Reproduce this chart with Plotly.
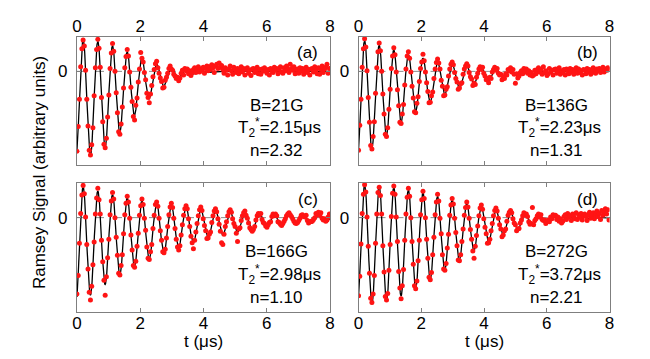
import numpy as np
import plotly.graph_objects as go

# ---------------- data (signal values in hundredths, arbitrary units) ----------------
dt = 0.03875  # sampling step (us)

sig_a = [-135, -93, -47, 8, 38, 53, 43, 2, -47, -92, -133, -141,
         -124, -95, -41, 6, 37, 54, 39, 7, -44, -85, -123, -129,
         -113, -77, -40, 5, 31, 47, 34, 0, -36, -70, -102, -106,
         -89, -60, -28, 6, 25, 37, 26, -1, -27, -51, -76, -82,
         -57, -45, -18, 4, 32, 22, 16, -2, -14, -37, -44, -53,
         -38, -24, -9, 3, 13, 17, 6, -3, -11, -17, -28, -27,
         -15, -10, -3, 5, 9, 4, 2, -5, -8, -12, -10, -16,
         -11, -3, 2, -6, 5, 1, 4, -4, 1, -7, -2, 3,
         6, -2, 3, 8, -1, 4, 2, 7, -3, 5, 9, 1,
         8, 3, 11, 6, -2, 9, 12, 5, 14, 7, 10, 3,
         -3, 6, 2, -6, 4, 9, 1, -5, 7, 3, -2, 5,
         -4, 2, 8, -1, 5, -6, 3, 6, -3, 2, -7, 4,
         5, -2, 1, 7, -4, 3, -5, 4, 0, 6, 2, -3,
         3, -6, 5, 1, -2, 7, 2, 5, -4, 3, 8, -1,
         -3, 6, 1, 9, 4, -2, 12, 5, 2, 8, -4, 3,
         4, -3, 6, 0, 5, -5, 1, 7, -2, 3, -6, 4,
         5, -1, 8, 2, -4, 6, -5, 3, 9, -2, 4, 7,
         12, -3, 5]

sig_b = [-133, -91, -47, 7, 38, 55, 41, 1, -44, -86, -125, -131,
         -110, -85, -37, 6, 33, 48, 35, 0, -38, -72, -106, -110,
         -95, -64, -30, 5, 26, 40, 28, -1, -31, -58, -86, -88,
         -72, -56, -23, 4, 26, 33, 22, -1, -25, -45, -68, -70,
         -54, -43, -17, 5, 16, 29, 18, -1, -19, -34, -53, -52,
         -41, -35, -12, 4, 15, 21, 14, 4, -15, -25, -41, -40,
         -30, -26, -8, 4, 12, 16, 11, -2, -12, -18, -30, -28,
         -21, -19, -5, 4, 9, 13, 9, -2, -9, -13, -24, -20,
         -22, -10, -3, 4, 8, 3, 7, -3, -8, -14, -12, -19,
         -10, -12, -1, 3, 7, 2, 5, -3, -6, -5, -14, -9,
         -12, -4, -6, 3, 1, 6, -1, 3, -5, -20, -4, -11,
         -8, -2, 1, -4, 5, 0, 4, -3, 1, -6, -2, -8,
         -6, 2, -4, 3, 6, -1, 3, -5, 8, -2, 1, -7,
         -4, 5, -1, 2, -6, 3, 4, -3, 0, 6, -5, 1,
         -2, 3, -6, 4, 1, -4, 5, -1, 3, -5, 2, 6,
         -3, 4, -2, 1, -6, 3, 2, -4, 5, -1, 3, -5,
         -2, 6, 1, -3, 4, 2, 5, -2, 3, 7, -1, 4,
         2, 6, 3]

sig_c = [-128, -97, -43, 7, 38, 54, 40, 1, -45, -86, -125, -138,
         -115, -79, -41, 6, 33, 49, 30, 6, -38, -74, -105, -130,
         -99, -67, -36, 5, 28, 42, 31, 0, -33, -63, -93, -96,
         -80, -62, -27, 5, 24, 36, 26, -1, -29, -54, -80, -83,
         -73, -48, -26, 4, 20, 31, 22, -1, -21, -49, -68, -70,
         -57, -45, -18, 4, 22, 26, 19, -1, -22, -38, -57, -59,
         -53, -34, -15, 5, 18, 24, 17, -1, -18, -36, -49, -54,
         -47, -29, -12, 4, 15, 20, 15, -2, -15, -31, -42, -52,
         -38, -24, -10, 3, 13, 18, 12, -2, -13, -22, -35, -34,
         -28, -24, -8, 3, 11, 15, 10, -2, -11, -23, -42, -45,
         -28, -15, -7, 3, 10, 13, 9, -2, -10, -15, -26, -40,
         -19, -17, -5, 3, 8, 11, 4, -1, -9, -17, -20, -23,
         -20, -15, -4, 3, 7, 5, 7, -3, -8, -10, -14, -16,
         -12, -8, -7, 2, 6, 3, 6, 3, -7, -8, -11, -13,
         -10, -6, -2, 3, 6, 8, 5, 2, -2, -6, -9, -10,
         -8, -5, -1, 4, 5, 2, 1, 4, -5, -9, -7, -6,
         -6, -3, 0, 7, 5, 9, 4, 8, -1, -4, -2, -6,
         -4, 1, 6]

sig_d = [-131, -98, -44, 7, 39, 55, 43, 1, -48, -93, -135, -142,
         -128, -97, -43, 6, 42, 51, 37, 6, -47, -91, -132, -138,
         -127, -88, -45, 2, 41, 53, 39, 1, -40, -90, -118, -136,
         -114, -87, -38, 6, 34, 49, 36, 0, -40, -78, -114, -119,
         -106, -72, -38, 5, 30, 44, 32, 0, -36, -68, -100, -104,
         -92, -62, -33, 5, 26, 39, 28, -1, -27, -62, -86, -88,
         -77, -51, -28, 4, 21, 32, 23, -1, -25, -47, -71, -72,
         -62, -40, -19, 4, 17, 26, 18, -1, -20, -36, -56, -68,
         -48, -30, -14, 3, 16, 21, 14, -2, -16, -27, -43, -42,
         -36, -22, -10, 3, 12, 16, 11, -1, -12, -19, -32, -29,
         -22, -19, -6, 4, 9, 12, 8, -2, -9, -12, -22, -19,
         -18, -9, -4, 3, 8, 5, 6, 2, -7, -11, -10, 17,
         -12, -5, -2, 3, 6, 1, 5, -3, -5, -4, -10, -7,
         -4, -7, 1, -2, 5, 3, 4, -3, 1, -6, -2, -9,
         -6, 2, 5, -3, 7, 1, 3, -5, 6, 2, -2, 8,
         -3, 5, 1, 7, -4, 3, 6, 2, -5, 4, 9, -1,
         3, 8, -2, 5, 11, 2, 7, -3, 12, 4, 9, 15,
         6, 13, -4]

labels = ["(a)", "(b)", "(c)", "(d)"]
fields = ["B=21G", "B=136G", "B=166G", "B=272G"]
T2 = [2.15, 2.23, 2.98, 3.72]          # us
n_exp = [2.32, 1.31, 1.10, 2.21]
period = 0.465                          # us, Ramsey fringe period
t_peak = 0.194                          # us, first fringe maximum
offset = 0.46                           # fringe offset (arb. units)
xticks = [0, 2, 4, 6, 8]

signals = [sig_a, sig_b, sig_c, sig_d]

# ---------------- layout geometry ----------------
# page body has an 8px margin, so the figure is 642x351 and sits at (8, 8)
W, H, OFF = 642, 351, 8


def px_x(X):
    return (X - OFF) / W


def px_y(Y):
    return 1 - (Y - OFF) / H


FONT = "Liberation Sans, Arial, Helvetica, sans-serif"
XL = [px_x(73), px_x(330)]
XR = [px_x(359), px_x(614)]
YT = [px_y(165), px_y(37)]
YB = [px_y(312), px_y(183)]
doms = [(XL, YT), (XR, YT), (XL, YB), (XR, YB)]
YR = [-1.58, 0.58]
GRAY = "#7f7f7f"
FS = 17

fig = go.Figure()
t_fit = np.linspace(0, 8, 1601)

for i in range(4):
    xa = "x" if i == 0 else f"x{i+1}"
    ya = "y" if i == 0 else f"y{i+1}"
    y = np.array(signals[i]) / 100.0
    t = dt * np.arange(len(y))
    env = np.exp(-(t_fit / T2[i]) ** n_exp[i])
    fit = env * (np.cos(2 * np.pi * (t_fit - t_peak) / period) - offset)
    fig.add_trace(go.Scatter(x=t_fit, y=fit, mode="lines",
                             line=dict(color="black", width=1.3),
                             xaxis=xa, yaxis=ya, showlegend=False, hoverinfo="skip"))
    fig.add_trace(go.Scatter(x=t, y=y, mode="markers",
                             marker=dict(color="#ff1414", size=5, line=dict(width=0)),
                             xaxis=xa, yaxis=ya, showlegend=False))
    fig.add_shape(type="line", xref=xa, yref=ya, x0=0, x1=8, y0=0, y1=0,
                  line=dict(color="#8c8c8c", width=1, dash="dash"), layer="below")

    xd, yd = doms[i]
    top = i < 2
    axx = dict(domain=xd, anchor=ya, range=[0, 8], tickvals=xticks,
               ticks="inside", ticklen=4, tickcolor=GRAY, showline=True,
               linecolor=GRAY, linewidth=1, mirror="ticks", showgrid=False,
               zeroline=False, side="top" if top else "bottom",
               ticklabelstandoff=-3 if top else -4,
               tickfont=dict(family=FONT, size=FS, color="black"))
    axy = dict(domain=yd, anchor=xa, range=YR, tickvals=[0], ticktext=["0"],
               ticks="inside", ticklen=4, tickcolor=GRAY, showline=True,
               linecolor=GRAY, linewidth=1, mirror="ticks", showgrid=False,
               zeroline=False, ticklabelstandoff=5,
               tickfont=dict(family=FONT, size=FS, color="black"))
    key = "" if i == 0 else str(i + 1)
    fig.layout["xaxis" + key] = axx
    fig.layout["yaxis" + key] = axy

    tf = dict(family=FONT, size=FS, color="black")
    common = dict(xref=xa, yref=ya, showarrow=False, font=tf,
                  xanchor="center", yanchor="middle")
    fig.add_annotation(x=7.3, y=0.31, text=labels[i], **common)
    fig.add_annotation(x=6.3, y=-0.57, text=fields[i], **common)
    fig.add_annotation(x=6.4, y=-0.95,
                       text=f"T<sub>2</sub><sup>*</sup>={T2[i]:.2f}μs", **common)
    fig.add_annotation(x=6.3, y=-1.34, text=f"n={n_exp[i]:.2f}", **common)

fig.add_annotation(x=px_x(35), y=px_y(172.5), xref="paper", yref="paper",
                   xanchor="center", yanchor="middle",
                   text="Ramsey Signal (arbitrary units)", textangle=-90,
                   showarrow=False, font=dict(family=FONT, size=FS, color="black"))
for xc in [(XL[0] + XL[1]) / 2, (XR[0] + XR[1]) / 2]:
    fig.add_annotation(x=xc, y=px_y(341), xref="paper", yref="paper", text="t (μs)",
                       xanchor="center", yanchor="middle",
                       showarrow=False, font=dict(family=FONT, size=FS, color="black"))

fig.update_layout(width=W, height=H, margin=dict(l=0, r=0, t=0, b=0),
                  paper_bgcolor="white", plot_bgcolor="white")

fig.write_html("out.html")
